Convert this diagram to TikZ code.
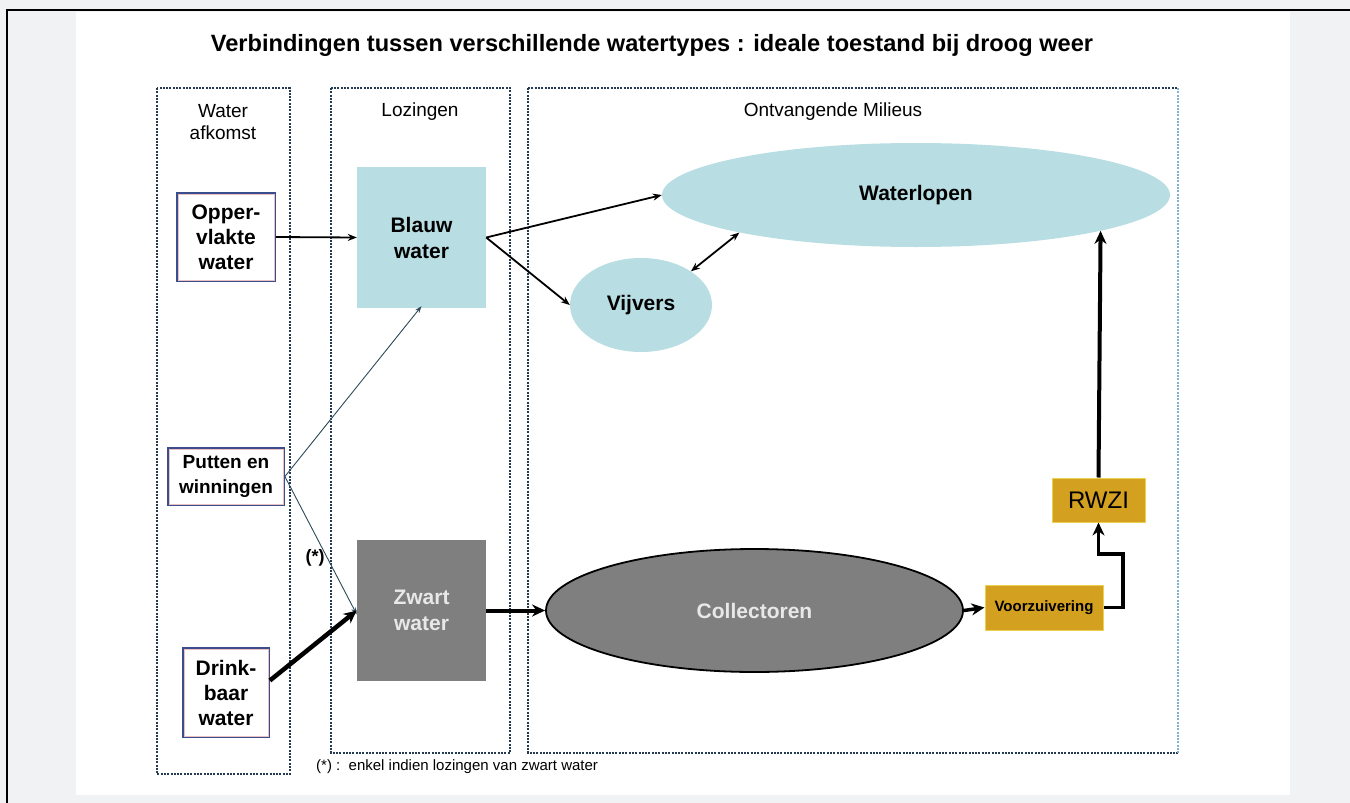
\documentclass[tikz,border=0pt]{standalone}
\usepackage{fontspec}
\setmainfont{Liberation Sans}
\usetikzlibrary{shapes.geometric,arrows.meta}
\definecolor{bgc}{HTML}{F1F2F4}
\definecolor{lblue}{HTML}{B8DEE3}
\definecolor{dgray}{HTML}{7F7F7F}
\definecolor{gold}{HTML}{D4A020}
\definecolor{goldb}{HTML}{EED050}
\definecolor{dotc}{HTML}{243A52}
\definecolor{dotl}{HTML}{7FB2D2}
\definecolor{srcb}{HTML}{3A4E8E}
\definecolor{srcr}{HTML}{EBC0C0}
\definecolor{thinl}{HTML}{2E4A5A}
\definecolor{lightt}{HTML}{E8E8E8}
\begin{document}
\begin{tikzpicture}[x=1pt,y=-1pt,
  panel/.style={draw=dotc, line width=2.2pt, dash pattern=on 2pt off 1.3pt},
  src/.style={draw=srcb, line width=1.8pt, fill=white, align=center, inner sep=0pt,
    font=\fontsize{21}{25}\selectfont\bfseries},
  inset/.style={draw=srcr, line width=0.5pt},
  sq/.style={align=center, inner sep=0pt, minimum width=129pt, minimum height=141pt,
    font=\fontsize{21}{26}\selectfont\bfseries},
  ell/.style={ellipse, inner sep=0pt, font=\fontsize{21}{25}\selectfont\bfseries},
  goldbox/.style={fill=gold, draw=goldb, line width=1pt, inner sep=0pt},
  lbl/.style={font=\fontsize{19}{21.5}\selectfont, align=center, inner sep=0pt},
  thinarr/.style={line width=1.8pt, -{Stealth[length=9pt,width=7pt]}},
  hairarr/.style={draw=thinl, line width=0.9pt, -{Stealth[length=7pt,width=5pt]}},
  thickarr/.style={line width=4pt, -{Stealth[length=13pt,width=12pt]}}
]
\useasboundingbox (0,0) rectangle (1350,803);
\fill[bgc] (0,0) rectangle (1350,803);
\fill[white] (76,12) rectangle (1290,795);
\draw[black, line width=1.2pt] (7,803) -- (7,10) -- (1350,10);

% title
\node[font=\fontsize{23.6}{28}\selectfont\bfseries] (title) at (652,45)
  {Verbindingen tussen verschillende watertypes : ideale toestand bij droog weer};

% panels
\draw[panel] (157,88) rectangle (290,774);
\draw[panel] (331,88) rectangle (510,753);
\draw[panel] (528,88) -- (528,753) -- (1178,753);
\draw[panel] (528,88) -- (1178,88);
\draw[panel, draw=dotl] (1178,88) -- (1178,753);

\node[lbl] (l1) at (223,122) {Water\\afkomst};
\node[lbl] (l2) at (420,112) {Lozingen};
\node[lbl] (l3) at (833,112) {Ontvangende Milieus};

% source boxes
\node[src, minimum width=98pt, minimum height=88pt] (opper) at (226,237) {Opper-\\vlakte\\water};
\node[src, minimum width=116pt, minimum height=57pt, font=\fontsize{19}{25}\selectfont\bfseries] (putten) at (226,476.5) {Putten en\\winningen};
\node[src, minimum width=86pt, minimum height=89pt] (drink) at (226,692.5) {Drink-\\baar\\water};
\foreach \n in {opper,putten,drink}
  \draw[inset] ([shift={(1.8,1.8)}]\n.north west) rectangle ([shift={(-1.8,-1.8)}]\n.south east);

% lozingen
\node[sq, fill=lblue] (blauw) at (421.5,237.5) {Blauw\\water};
\node[sq, fill=dgray, text=lightt] (zwart) at (421.5,610.5) {Zwart\\water};

% ontvangende milieus
\node[ell, fill=lblue, minimum width=508pt, minimum height=104pt] (waterlopen) at (916,195) {Waterlopen};
\node[ell, fill=lblue, minimum width=142pt, minimum height=94pt] (vijvers) at (641,305) {Vijvers};
\node[ell, fill=dgray, draw=black, line width=1.8pt, text=lightt, minimum width=417pt, minimum height=123pt] (collect) at (754.5,610.5) {Collectoren};
\node[goldbox, minimum width=118pt, minimum height=45pt, font=\fontsize{15}{18}\selectfont\bfseries] (voor) at (1044,607.5) {Voorzuivering};
\node[goldbox, minimum width=93pt, minimum height=44pt, font=\fontsize{24}{28}\selectfont] (rwzi) at (1098.5,500) {RWZI};

\node[font=\fontsize{18}{20}\selectfont\bfseries, inner sep=0pt] (star) at (315,558) {(*)};
\node[font=\fontsize{15}{17}\selectfont, inner sep=0pt, anchor=west] (foot) at (316,767)
  {(*) :\ \ enkel indien lozingen van zwart water};

% connectors
\draw[thinarr] (opper.east) -- (blauw.west);
\draw[thinarr] (blauw.east) -- (waterlopen.west);
\draw[thinarr] (blauw.east) -- (vijvers.west);
\draw[line width=1.8pt, {Stealth[length=9pt,width=7pt]}-{Stealth[length=9pt,width=7pt]}] (vijvers.34) -- (waterlopen.192);
\draw[hairarr] (putten.east) -- ([yshift=2pt]blauw.south);
\draw[hairarr] (putten.east) -- ([yshift=-4pt]zwart.west);
\draw[thickarr, line width=4.5pt] ([yshift=12pt]drink.east) -- (zwart.west);
\draw[thickarr] (zwart.east) -- (collect.west);
\draw[thickarr, line width=3.5pt] (collect.east) -- (voor.west);
\coordinate (elbow) at (1123,554);
\draw[thickarr, line width=3.5pt] (voor.east) -| (elbow) -| (rwzi.south);
\draw[thickarr] (rwzi.north) -- (waterlopen.-11.5);
\end{tikzpicture}
\end{document}
